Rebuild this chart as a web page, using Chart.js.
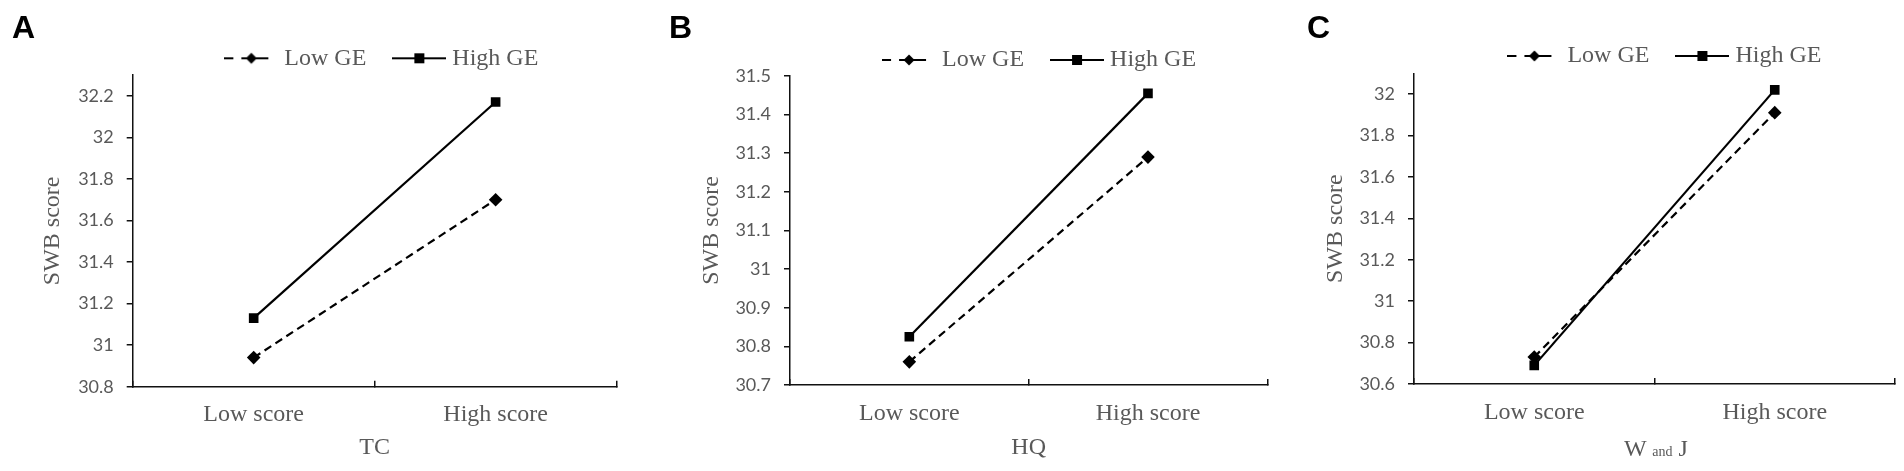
<!DOCTYPE html>
<html>
<head>
<meta charset="utf-8">
<script src="https://cdn.jsdelivr.net/npm/chart.js@4.4.0/dist/chart.umd.min.js"></script>
<style>
  body { margin: 0; background: #fff; }
  #wrap { position: relative; width: 1904px; height: 471px; overflow: hidden; background: #fff; }
  canvas { position: absolute; top: 0; }
  .tag { position: absolute; top: 11px; font: bold 32px/32px "Liberation Sans", Arial, sans-serif; color: #000; }
  .xt { position: absolute; width: 200px; text-align: center; font: 24px/24px "Liberation Serif", serif; color: #595959; }
  .xt small { font-size: 14px; }
</style>
</head>
<body>
<div id="wrap">
  <canvas id="cA" width="640" height="471" style="left:0px"></canvas>
  <canvas id="cB" width="640" height="471" style="left:640px"></canvas>
  <canvas id="cC" width="624" height="471" style="left:1280px"></canvas>
  <div class="tag" style="left:12px">A</div>
  <div class="tag" style="left:669px">B</div>
  <div class="tag" style="left:1307px">C</div>
  <div class="xt" style="left:1556px; top:436px">W <small>and</small> J</div>
</div>
<script>
// values
const categories = ['Low score', 'High score'];
const seriesNames = ['Low GE', 'High GE'];

const tcLowGE = [30.94, 31.70];
const tcHighGE = [31.13, 32.17];

const hqLowGE = [30.76, 31.29];
const hqHighGE = [30.825, 31.455];

const wjLowGE = [30.73, 31.91];
const wjHighGE = [30.69, 32.02];

const ink = '#111';
const grey = '#595959';

// little line + marker pictures for the legend
function legendIcon(dashed) {
  const c = document.createElement('canvas');
  c.width = 54; c.height = 14;
  const g = c.getContext('2d');
  g.strokeStyle = '#000'; g.fillStyle = '#000'; g.lineWidth = 2;
  g.beginPath();
  if (dashed) {
    g.moveTo(0, 7); g.lineTo(9, 7);
    g.moveTo(17, 7); g.lineTo(44, 7);
  } else {
    g.moveTo(0, 7); g.lineTo(54, 7);
  }
  g.stroke();
  g.beginPath();
  if (dashed) {
    g.moveTo(27, 1.5); g.lineTo(32.5, 7); g.lineTo(27, 12.5); g.lineTo(21.5, 7); g.closePath();
  } else {
    g.rect(22, 2, 10, 10);
  }
  g.fill();
  return c;
}
const icons = [legendIcon(true), legendIcon(false)];

// nudge the legend sideways after layout
const legendShift = {
  id: 'legendShift',
  afterLayout(chart, args, opts) {
    if (chart.legend && opts.dx) {
      chart.legend.left += opts.dx;
      chart.legend.right += opts.dx;
    }
  }
};

function panel(id, low, high, p) {
  return new Chart(document.getElementById(id), {
    type: 'line',
    data: {
      labels: categories,
      datasets: [
        {
          label: seriesNames[0], data: low,
          borderColor: '#000', backgroundColor: '#000', borderWidth: 2.2, borderDash: [8, 5],
          pointStyle: 'rectRot', pointRadius: 6.8, pointBorderWidth: 0, pointBackgroundColor: '#000'
        },
        {
          label: seriesNames[1], data: high,
          borderColor: '#000', backgroundColor: '#000', borderWidth: 2.2,
          pointStyle: 'rect', pointRadius: 6.8, pointBorderWidth: 0, pointBackgroundColor: '#000'
        }
      ]
    },
    options: {
      responsive: false,
      animation: false,
      events: [],
      layout: { padding: { top: p.padTop, right: p.padRight, left: 0, bottom: 0 } },
      plugins: {
        tooltip: { enabled: false },
        legend: {
          position: 'top',
          fullSize: false,
          maxHeight: p.legendH,
          labels: {
            usePointStyle: true,
            pointStyleWidth: 42,
            padding: 32,
            color: grey,
            font: { family: 'Liberation Serif', size: 24 },
            generateLabels(chart) {
              const items = Chart.defaults.plugins.legend.labels.generateLabels(chart);
              items.forEach((it, i) => { it.pointStyle = icons[i]; });
              return items;
            }
          }
        },
        legendShift: { dx: p.dx }
      },
      scales: {
        x: {
          offset: true,
          grid: {
            offset: true, drawOnChartArea: false, drawTicks: true,
            tickLength: -6, color: ink, lineWidth: 1.5
          },
          border: { display: true, color: ink, width: 1.5 },
          ticks: { padding: 20, color: grey, font: { family: 'Liberation Serif', size: 24 } },
          title: {
            display: !!p.xTitle, text: p.xTitle, color: grey,
            font: { family: 'Liberation Serif', size: 24 },
            padding: { top: 8.6, bottom: 8.6 }
          },
          afterFit(s) { s.height = p.xH; }
        },
        y: {
          min: p.yMin, max: p.yMax, bounds: 'data',
          ticks: {
            stepSize: p.step, padding: 13, color: grey,
            font: { family: 'Lato', size: 18 },
            callback: v => String(+v.toFixed(1))
          },
          afterBuildTicks(s) {
            // the axis runs a little past its last labelled tick
            s.ticks = s.ticks.filter(t => t.value <= p.tickMax + 1e-6);
          },
          grid: { drawOnChartArea: false, tickLength: 6, color: ink, lineWidth: 1.5 },
          border: { display: true, color: ink, width: 1.5 },
          title: {
            display: true, text: 'SWB score', color: grey,
            font: { family: 'Liberation Serif', size: 24 },
            padding: { top: p.yTP, bottom: p.yTP }
          },
          afterFit(s) { s.width = p.yW; }
        }
      }
    },
    plugins: [legendShift]
  });
}

panel('cA', tcLowGE, tcHighGE, {
  padTop: 14.3, legendH: 60.7, padRight: 23.4, dx: 9.7,
  xH: 84.3, yW: 132.7, yTP: 38.6,
  yMin: 30.8, yMax: 32.3, tickMax: 32.2, step: 0.2, xTitle: 'TC'
});
panel('cB', hqLowGE, hqHighGE, {
  padTop: 16, legendH: 60, padRight: 12.7, dx: 13.4,
  xH: 86, yW: 150, yTP: 57.3,
  yMin: 30.7, yMax: 31.5, tickMax: 31.5, step: 0.1, xTitle: 'HQ'
});
panel('cC', wjLowGE, wjHighGE, {
  padTop: 12, legendH: 61.3, padRight: 9, dx: 12.9,
  xH: 87, yW: 134, yTP: 41.1,
  yMin: 30.6, yMax: 32.1, tickMax: 32.0, step: 0.2, xTitle: ''
});
</script>
</body>
</html>
